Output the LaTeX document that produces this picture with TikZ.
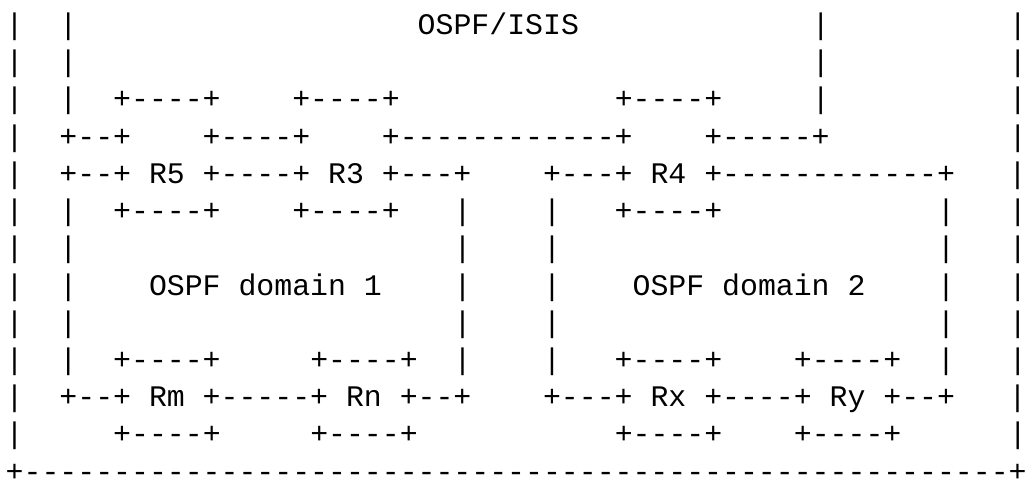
\documentclass[tikz,border=0pt]{standalone}
\usepackage{fontspec}
\setmonofont{Liberation Mono}
\usepackage{tikz}

% n blank columns
\newcommand\gp[1]{\kern#1\fontcharwd\font`x\relax}

\tikzset{asciirow/.style={anchor=base west,inner sep=0pt,outer sep=0pt,
    font=\ttfamily\fontsize{9.95}{12}\selectfont}}

\begin{document}
\begin{tikzpicture}[x=5.97pt,y=-12.4pt]
    \useasboundingbox (0,0) rectangle (57.342,12.984);

    \node[asciirow] (l1) at (0.32,0.93) {|\gp{2}|\gp{19}OSPF/ISIS\gp{13}|\gp{10}|};
    \node[asciirow] (l2) at (0.32,1.93) {|\gp{2}|\gp{41}|\gp{10}|};
    \node[asciirow] (l3) at (0.32,2.93) {|\gp{2}|\gp{2}+----+\gp{4}+----+\gp{12}+----+\gp{5}|\gp{10}|};
    \node[asciirow] (l4) at (0.32,3.93) {|\gp{2}+--+\gp{4}+----+\gp{4}+------------+\gp{4}+-----+\gp{10}|};
    \node[asciirow] (l5) at (0.32,4.93) {|\gp{2}+--+ R5 +----+ R3 +---+\gp{4}+---+ R4 +------------+\gp{3}|};
    \node[asciirow] (l6) at (0.32,5.93) {|\gp{2}|\gp{2}+----+\gp{4}+----+\gp{3}|\gp{4}|\gp{3}+----+\gp{12}|\gp{3}|};
    \node[asciirow] (l7) at (0.32,6.93) {|\gp{2}|\gp{21}|\gp{4}|\gp{21}|\gp{3}|};
    \node[asciirow] (l8) at (0.32,7.93) {|\gp{2}|\gp{4}OSPF domain 1\gp{4}|\gp{4}|\gp{4}OSPF domain 2\gp{4}|\gp{3}|};
    \node[asciirow] (l9) at (0.32,8.93) {|\gp{2}|\gp{21}|\gp{4}|\gp{21}|\gp{3}|};
    \node[asciirow] (l10) at (0.32,9.93) {|\gp{2}|\gp{2}+----+\gp{5}+----+\gp{2}|\gp{4}|\gp{3}+----+\gp{4}+----+\gp{2}|\gp{3}|};
    \node[asciirow] (l11) at (0.32,10.93) {|\gp{2}+--+ Rm +-----+ Rn +--+\gp{4}+---+ Rx +----+ Ry +--+\gp{3}|};
    \node[asciirow] (l12) at (0.32,11.93) {|\gp{5}+----+\gp{5}+----+\gp{11}+----+\gp{4}+----+\gp{6}|};
    \node[asciirow] (l13) at (0.32,12.93) {+-------------------------------------------------------+};
\end{tikzpicture}
\end{document}
